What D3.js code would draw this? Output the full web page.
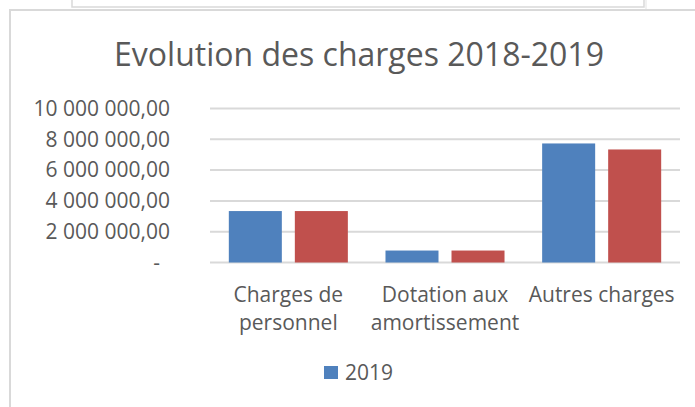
<!DOCTYPE html>
<html>
<head>
<meta charset="utf-8">
<script src="https://cdn.jsdelivr.net/npm/d3@7"></script>
<style>
	body { margin: 0; background: #fff; }
	text { font-family: "Open Sans", sans-serif; fill: #595959; }
</style>
</head>
<body>
<div id="chart"></div>
<script>
var categories = ["Charges de personnel", "Dotation aux amortissement", "Autres charges"];
var seriesNames = ["2019", "2018"];
var values2019 = [3340000, 777000, 7730000];
var values2018 = [3340000, 777000, 7340000];
var yTicks = [0, 2000000, 4000000, 6000000, 8000000, 10000000];
var legendItems = ["2019"];
var colors = ["#4f81bd", "#c0504d"];

var data = categories.map((c, i) => ({
	cat: c,
	vals: [values2019[i], values2018[i]]
}));

var svg = d3.select("#chart")
	.append("svg")
	.attr("width", 695)
	.attr("height", 407);

// frame and the box behind it
svg.append("rect")
	.attr("x", 72).attr("y", -5)
	.attr("width", 572).attr("height", 12)
	.attr("fill", "none")
	.attr("stroke", "#d9d9d9")
	.attr("stroke-width", 1.5);
svg.append("line")
	.attr("x1", 646).attr("x2", 646)
	.attr("y1", 0).attr("y2", 9)
	.attr("stroke", "#e3e3e3")
	.attr("stroke-width", 1);
svg.append("rect")
	.attr("x", 10).attr("y", 10)
	.attr("width", 700).attr("height", 410)
	.attr("fill", "#fff")
	.attr("stroke", "#d9d9d9")
	.attr("stroke-width", 2);

var x = d3.scaleBand()
	.domain(categories)
	.range([210, 680]);

var xs = d3.scaleBand()
	.domain(seriesNames)
	.range([0, x.bandwidth()])
	.paddingInner(0.197)
	.paddingOuter(0.285);

var y = d3.scaleLinear()
	.domain([0, 10000000])
	.range([262.5, 108.5]);

var locale = d3.formatLocale({decimal: ",", thousands: "\u00a0", grouping: [3]});
var fmt = locale.format(",.2f");

// gridlines
svg.selectAll(".grid")
	.data(yTicks)
	.enter()
	.append("line")
	.attr("class", "grid")
	.attr("x1", 210)
	.attr("x2", 680)
	.attr("y1", d => y(d))
	.attr("y2", d => y(d))
	.attr("stroke", "#d9d9d9")
	.attr("stroke-width", 2);

// y axis labels
var yAxis = svg.append("g")
	.attr("transform", "translate(210,0)")
	.call(d3.axisLeft(y)
		.tickValues(yTicks)
		.tickSize(0)
		.tickPadding(40)
		.tickFormat(d => d === 0 ? "-" : fmt(d)));
yAxis.select(".domain").remove();
yAxis.selectAll("text")
	.style("font-size", "21px")
	.attr("fill", "#595959")
	.attr("font-family", "Open Sans")
	.attr("dx", d => d === 0 ? -10 : 0);

// bars
var groups = svg.selectAll(".cat")
	.data(data)
	.enter()
	.append("g")
	.attr("class", "cat")
	.attr("transform", d => "translate(" + x(d.cat) + ",0)");

groups.selectAll("rect")
	.data(d => d.vals.map((v, i) => ({name: seriesNames[i], v: v, i: i})))
	.enter()
	.append("rect")
	.attr("x", d => xs(d.name))
	.attr("width", xs.bandwidth())
	.attr("y", d => y(d.v))
	.attr("height", d => y(0) - y(d.v))
	.attr("fill", d => colors[d.i]);

// category labels, wrapped
svg.selectAll(".catlabel")
	.data(categories)
	.enter()
	.append("text")
	.attr("class", "catlabel")
	.attr("x", d => x(d) + x.bandwidth() / 2)
	.attr("y", 302)
	.style("font-size", "21px")
	.style("text-anchor", "middle")
	.each(function(d) {
		var t = d3.select(this);
		var cx = x(d) + x.bandwidth() / 2;
		var words = d.split(" ");
		var line = [];
		var lineNo = 0;
		var tspan = t.append("tspan").attr("x", cx).attr("y", 302);
		words.forEach(w => {
			line.push(w);
			tspan.text(line.join(" "));
			if (tspan.node().getComputedTextLength() > 150 && line.length > 1) {
				line.pop();
				tspan.text(line.join(" "));
				line = [w];
				lineNo++;
				tspan = t.append("tspan").attr("x", cx).attr("y", 302 + lineNo * 28).text(w);
			}
		});
	});

// title
svg.append("text")
	.attr("x", 359)
	.attr("y", 65.5)
	.style("font-size", "32px")
	.style("text-anchor", "middle")
	.text("Evolution des charges 2018-2019");

// legend
var leg = svg.selectAll(".leg")
	.data(legendItems)
	.enter()
	.append("g")
	.attr("class", "leg");
leg.append("rect")
	.attr("x", 324)
	.attr("y", 366)
	.attr("width", 14)
	.attr("height", 13)
	.attr("fill", (d, i) => colors[i]);
leg.append("text")
	.attr("x", 345)
	.attr("y", 380)
	.style("font-size", "21px")
	.text(d => d);
</script>
</body>
</html>
